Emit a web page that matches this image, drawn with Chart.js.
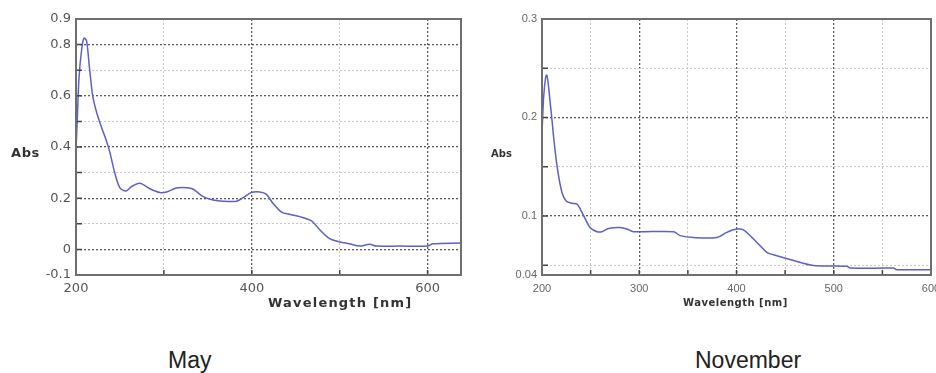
<!DOCTYPE html>
<html>
<head>
<meta charset="utf-8">
<script src="https://cdn.jsdelivr.net/npm/chart.js@4.4.1/dist/chart.umd.min.js"></script>
<style>
body{margin:0;width:936px;height:373px;overflow:hidden;background:#fff;position:relative;font-family:"Liberation Sans",Arial,sans-serif}
.box{position:absolute}
.lbl{position:absolute;white-space:nowrap;color:#222}
.ax{font-family:"DejaVu Sans",sans-serif;font-weight:bold;color:#333}
</style>
</head>
<body>
<div class="box" style="left:0;top:0;width:470px;height:300px"><canvas id="may"></canvas></div>
<div class="box" style="left:480px;top:0;width:470px;height:300px"><canvas id="nov"></canvas></div>

<div class="lbl ax" style="left:11px;top:145px;font-size:13px;letter-spacing:0.6px">Abs</div>
<div class="lbl ax" style="left:268px;top:295px;font-size:13px;letter-spacing:1.2px">Wavelength [nm]</div>
<div class="lbl ax" style="left:491px;top:148px;font-size:10px">Abs</div>
<div class="lbl ax" style="left:683px;top:297px;font-size:10px;letter-spacing:0.5px">Wavelength [nm]</div>

<div class="lbl" style="left:168px;top:347px;font-size:23px">May</div>
<div class="lbl" style="left:695px;top:347px;font-size:23px">November</div>

<script>
// May spectrum
const mayWavelength = [200, 201.5, 203.4, 206.4, 209, 212, 215, 219, 223.5, 229, 234, 238.6, 244, 250, 257, 263, 272.7, 284, 295.5, 303, 314, 326, 333, 344.7, 356, 367, 382.6, 390, 399.6, 409, 416.7, 424, 433.7, 443, 454.5, 468, 477, 488.6, 500, 511, 522.7, 534, 541.7, 568, 600, 606, 638];
const mayAbs = [0.39, 0.51, 0.67, 0.78, 0.825, 0.815, 0.72, 0.60, 0.535, 0.477, 0.43, 0.378, 0.30, 0.24, 0.228, 0.245, 0.258, 0.237, 0.222, 0.224, 0.24, 0.241, 0.236, 0.206, 0.193, 0.188, 0.188, 0.202, 0.222, 0.224, 0.215, 0.18, 0.146, 0.137, 0.128, 0.111, 0.078, 0.042, 0.029, 0.022, 0.013, 0.02, 0.013, 0.013, 0.013, 0.022, 0.025];

// November spectrum
const novWavelength = [200, 201.7, 203.8, 205, 206.8, 207.8, 210.3, 212.6, 216, 220.6, 225, 230.8, 236, 239.4, 244.5, 249.6, 256.5, 261.7, 268.5, 280.5, 287.4, 294, 335.3, 342, 355.8, 379.8, 390, 400.4, 407.2, 417.5, 431.2, 438, 458.6, 479, 513.5, 516.9, 561.4, 564.8, 600];
const novAbs = [0.184, 0.221, 0.241, 0.243, 0.231, 0.221, 0.197, 0.174, 0.147, 0.1235, 0.115, 0.1128, 0.112, 0.107, 0.097, 0.088, 0.084, 0.084, 0.0873, 0.0883, 0.0867, 0.084, 0.084, 0.080, 0.078, 0.078, 0.0833, 0.0866, 0.0858, 0.0766, 0.063, 0.0605, 0.0547, 0.0497, 0.049, 0.047, 0.047, 0.0454, 0.0454];

// ticks
const mayXTicks = [200, 300, 400, 500, 600];
const mayXLabels = [200, 400, 600];
const mayXMajor = [400, 600];
const mayYTicks = [-0.1, 0, 0.1, 0.2, 0.3, 0.4, 0.5, 0.6, 0.7, 0.8, 0.9];
const mayYLabels = [-0.1, 0, 0.2, 0.4, 0.6, 0.8, 0.9];
const mayYMajor = [0, 0.2, 0.4, 0.6, 0.8];

const novXTicks = [200, 250, 300, 350, 400, 450, 500, 550, 600];
const novXLabels = [200, 300, 400, 500, 600];
const novXMajor = [300, 400, 500];
const novYTicks = [0.04, 0.05, 0.1, 0.15, 0.2, 0.25, 0.3];
const novYLabels = [0.04, 0.1, 0.2, 0.3];
const novYMajor = [0.1, 0.2];

const lineColor = '#5b60cc';
const has = (arr, v) => arr.some(a => Math.abs(a - v) < 1e-6);

// frame and inward tick marks
const framePlugin = {
    id: 'frame',
    afterDraw(chart) {
        const ctx = chart.ctx;
        const a = chart.chartArea;
        ctx.save();
        ctx.strokeStyle = '#444';
        ctx.lineWidth = 1.5;
        ctx.beginPath();
        chart.scales.x.ticks.forEach(t => {
            const px = chart.scales.x.getPixelForValue(t.value);
            ctx.moveTo(px, a.bottom);
            ctx.lineTo(px, a.bottom - 5);
        });
        chart.scales.y.ticks.forEach(t => {
            const py = chart.scales.y.getPixelForValue(t.value);
            ctx.moveTo(a.left, py);
            ctx.lineTo(a.left + 6, py);
        });
        ctx.stroke();
        ctx.strokeStyle = '#6f6f6f';
        ctx.lineWidth = 2;
        ctx.strokeRect(a.left, a.top, a.right - a.left, a.bottom - a.top);
        ctx.restore();
    }
};

function makeChart(id, xs, ys, o) {
    const pts = xs.map((x, i) => ({x: x, y: ys[i]}));
    new Chart(document.getElementById(id), {
        type: 'line',
        data: {
            datasets: [{
                data: pts,
                borderColor: lineColor,
                borderWidth: 1.5,
                pointRadius: 0,
                tension: 0.3,
                fill: false
            }]
        },
        options: {
            responsive: true,
            maintainAspectRatio: false,
            animation: false,
            layout: {padding: {top: 19, right: o.padRight, left: 0, bottom: 0}},
            plugins: {legend: {display: false}, tooltip: {enabled: false}},
            scales: {
                x: {
                    type: 'linear',
                    min: o.xMin, max: o.xMax,
                    afterBuildTicks: s => { s.ticks = o.xTicks.map(v => ({value: v})); },
                    afterFit: s => { s.height = 25; },
                    ticks: {
                        autoSkip: false, maxRotation: 0,
                        padding: o.xPad,
                        color: o.tickColor,
                        font: {family: o.font, size: o.fontSize},
                        callback: v => has(o.xLabels, v) ? String(v) : ''
                    },
                    grid: {
                        drawTicks: false,
                        lineWidth: c => has(o.xMajor, c.tick.value) ? 1.3 : 1,
                        color: c => has(o.xMajor, c.tick.value) ? '#5a5a5a' : '#c8c8c8'
                    },
                    border: {display: false, dash: [2, 2]}
                },
                y: {
                    min: o.yMin, max: o.yMax,
                    afterBuildTicks: s => { s.ticks = o.yTicks.map(v => ({value: v})); },
                    afterFit: s => { s.width = o.yWidth; },
                    ticks: {
                        autoSkip: false,
                        padding: 5,
                        color: o.tickColor,
                        font: {family: o.font, size: o.fontSize},
                        callback: v => has(o.yLabels, v) ? String(Math.round(v * 100) / 100) : ''
                    },
                    grid: {
                        drawTicks: false,
                        lineWidth: c => has(o.yMajor, c.tick.value) ? 1.3 : 1,
                        color: c => has(o.yMajor, c.tick.value) ? '#5a5a5a' : '#c8c8c8'
                    },
                    border: {display: false, dash: [2, 2]}
                }
            }
        },
        plugins: [framePlugin]
    });
}

makeChart('may', mayWavelength, mayAbs, {
    xMin: 200, xMax: 638, yMin: -0.1, yMax: 0.9,
    xTicks: mayXTicks, xLabels: mayXLabels, xMajor: mayXMajor,
    yTicks: mayYTicks, yLabels: mayYLabels, yMajor: mayYMajor,
    yWidth: 76, padRight: 9, xPad: 6,
    font: '"DejaVu Sans", sans-serif', fontSize: 13, tickColor: '#555'
});

makeChart('nov', novWavelength, novAbs, {
    xMin: 200, xMax: 600, yMin: 0.04, yMax: 0.3,
    xTicks: novXTicks, xLabels: novXLabels, xMajor: novXMajor,
    yTicks: novYTicks, yLabels: novYLabels, yMajor: novYMajor,
    yWidth: 62, padRight: 19, xPad: 7,
    font: '"Liberation Sans", Arial, sans-serif', fontSize: 11, tickColor: '#666'
});
</script>
</body>
</html>
